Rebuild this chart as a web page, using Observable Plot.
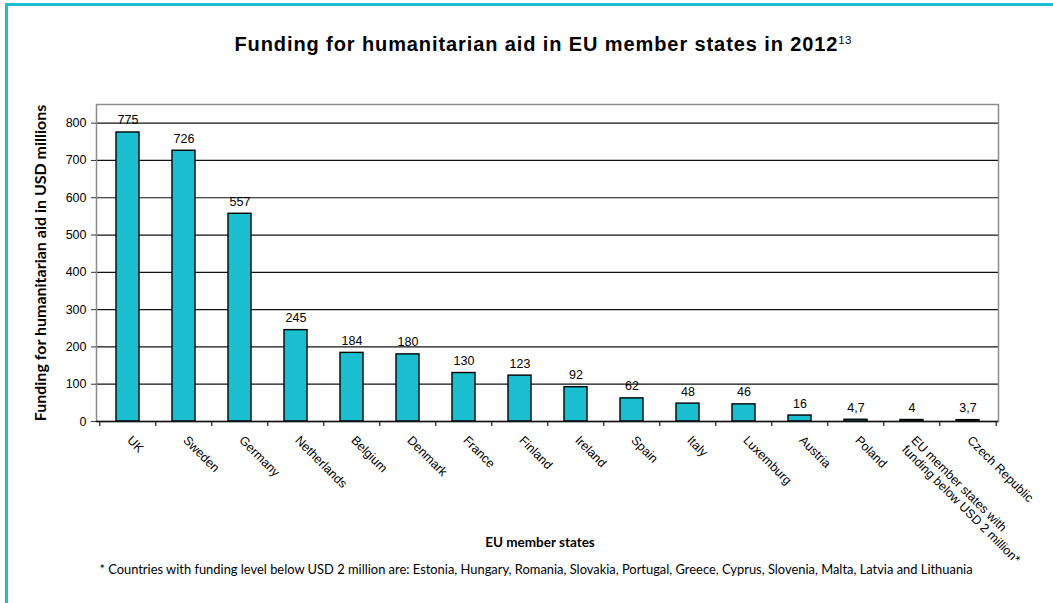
<!DOCTYPE html>
<html>
<head>
<meta charset="utf-8">
<script src="https://cdn.jsdelivr.net/npm/d3@7"></script>
<script src="https://cdn.jsdelivr.net/npm/@observablehq/plot@0.6"></script>
<style>
  html, body { margin: 0; padding: 0; background: #fff; }
  #wrap { position: relative; width: 1053px; height: 603px; overflow: hidden; background: #fff; }
  #borderTop { position: absolute; left: 5px; top: 3px; width: 1048px; height: 3px; background: #1BBECE; }
  #borderLeft { position: absolute; left: 5px; top: 3px; width: 3px; height: 600px; background: #1BBECE; }
  #title { position: absolute; left: 0; width: 1086px; top: 33px; text-align: center; white-space: nowrap;
    font-family: "Liberation Sans", Arial, sans-serif; font-weight: bold; font-size: 20px; letter-spacing: 0.9px; color: #000; }
  #title sup { font-weight: normal; font-size: 11.5px; letter-spacing: 0.2px; vertical-align: 7px; line-height: 0; }
  #chart { position: absolute; left: 0; top: 90px; }
  #xtitle { position: absolute; left: 0; width: 1080px; top: 534px; text-align: center;
    font-family: Lato, "Open Sans", sans-serif; font-weight: bold; font-size: 13.5px; color: #000; }
  #note { position: absolute; left: 0; width: 1072px; top: 561px; text-align: center; white-space: nowrap;
    font-family: Lato, "Open Sans", sans-serif; font-size: 12.9px; color: #000; }
</style>
</head>
<body>
<div id="wrap">
  <div id="chart"></div>
  <div id="borderTop"></div>
  <div id="borderLeft"></div>
  <div id="title">Funding for humanitarian aid in EU member states in 2012<sup>13</sup></div>
  <div id="xtitle">EU member states</div>
  <div id="note">* Countries with funding level below USD 2 million are: Estonia, Hungary, Romania, Slovakia, Portugal, Greece, Cyprus, Slovenia, Malta, Latvia and Lithuania</div>
</div>
<script>
const countries = ["UK", "Sweden", "Germany", "Netherlands", "Belgium", "Denmark", "France", "Finland", "Ireland", "Spain", "Italy", "Luxemburg", "Austria", "Poland", "EU member states with\nfunding below USD 2 million*", "Czech Republic"];
const funding = [775, 726, 557, 245, 184, 180, 130, 123, 92, 62, 48, 46, 16, 4.7, 4, 3.7];
const valueLabels = ["775", "726", "557", "245", "184", "180", "130", "123", "92", "62", "48", "46", "16", "4,7", "4", "3,7"];
const yTicks = [0, 100, 200, 300, 400, 500, 600, 700, 800];
const yLabel = "Funding for humanitarian aid in USD millions";

const data = countries.map((c, i) => ({country: c, value: funding[i], label: valueLabels[i]}));

const W = 1053, H = 440, mL = 96, mR = 55, mT = 14, mB = 109;
const step = (W - mL - mR) / countries.length;
const font = "Liberation Sans, Arial, sans-serif";

const chart = Plot.plot({
  width: W, height: H,
  marginLeft: mL, marginRight: mR, marginTop: mT, marginBottom: mB,
  style: {background: "transparent", overflow: "visible", fontFamily: font, fontSize: "12.5px", color: "#000"},
  x: {domain: countries, paddingInner: 0.59, paddingOuter: 0.295, axis: null},
  y: {domain: [0, 850], axis: null},
  marks: [
    Plot.ruleY(yTicks.filter(d => d > 0), {stroke: "#111", strokeWidth: 1.2}),
    Plot.frame({stroke: "#8c8c8c", strokeWidth: 1.5}),
    Plot.barY(data, {x: "country", y: "value", fill: "#1BBECE", stroke: "#000", strokeWidth: 1.4}),
    Plot.ruleY([0], {stroke: "#111", strokeWidth: 1.5}),
    Plot.ruleX(countries, {x: d => d, y1: 0, y2: 0, dx: -step / 2, insetBottom: -5, stroke: "#222", strokeWidth: 1.2}),
    Plot.ruleX([countries[countries.length - 1]], {x: d => d, y1: 0, y2: 0, dx: step / 2, insetBottom: -5, stroke: "#222", strokeWidth: 1.2}),
    Plot.axisY({ticks: yTicks, tickSize: 5, tickPadding: 5, tickFormat: d => String(d), fontSize: 12.5, label: null, stroke: "#333"}),
    Plot.text(data, {x: "country", y: "value", text: "label", lineAnchor: "bottom", dy: -8, fontSize: 12.5, fill: "#000"}),
    Plot.text(data, {x: "country", y: () => 0, text: "country", rotate: 45, textAnchor: "start", lineAnchor: "top", dx: 5, dy: 13, fontSize: 12.5, lineHeight: 1.05, fill: "#000"}),
    Plot.text([yLabel], {frameAnchor: "left", text: d => d, rotate: -90, textAnchor: "middle", dx: -56, fontFamily: "Lato, Open Sans, sans-serif", fontWeight: "bold", fontSize: 16, fill: "#000"})
  ]
});
document.getElementById("chart").appendChild(chart);
</script>
</body>
</html>
